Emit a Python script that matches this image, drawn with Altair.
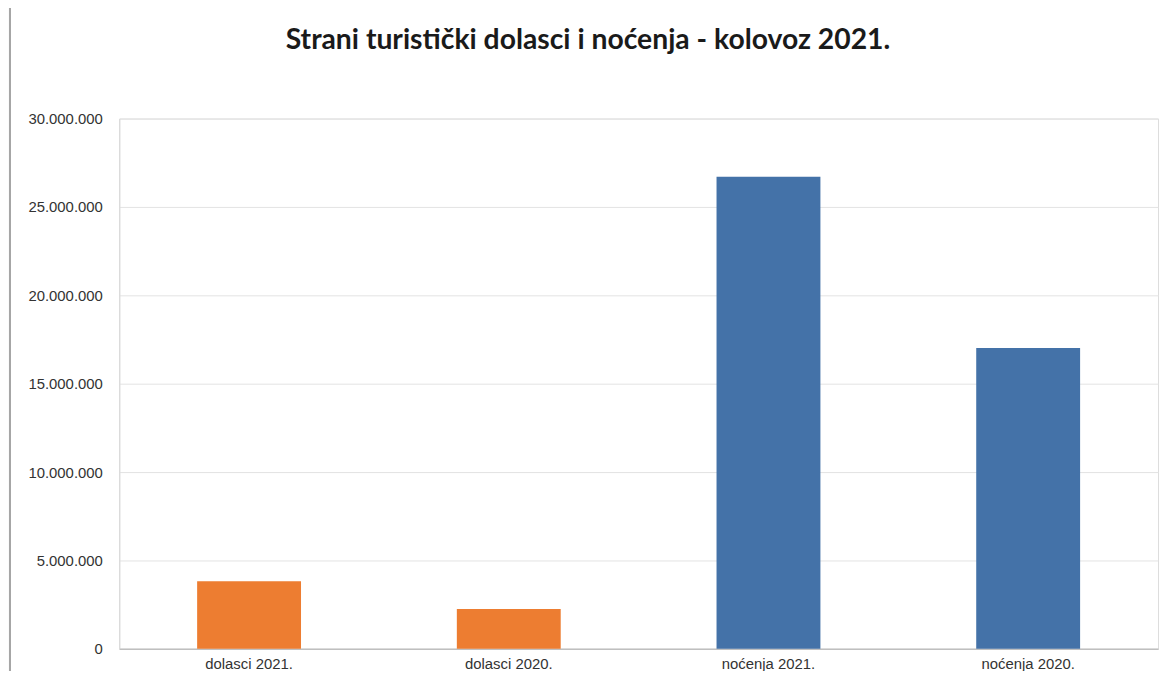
import altair as alt
import pandas as pd

categories = ["dolasci 2021.", "dolasci 2020.", "noćenja 2021.", "noćenja 2020."]
values = [3820000, 2250000, 26700000, 17020000]
colors = ["#ED7D31", "#ED7D31", "#4472A8", "#4472A8"]
y_ticks = [0, 5000000, 10000000, 15000000, 20000000, 25000000, 30000000]

df = pd.DataFrame({"kategorija": categories, "vrijednost": values, "boja": colors})

bars = alt.Chart(df).mark_bar().encode(
    x=alt.X("kategorija:N", sort=categories,
            scale=alt.Scale(paddingInner=0.6, paddingOuter=0.3),
            axis=alt.Axis(title=None, labelAngle=0, ticks=False, labelPadding=8,
                          labelFontSize=15, labelColor="#333333", labelFont="Liberation Sans",
                          domainColor="#BFBFBF", domainWidth=1.5)),
    y=alt.Y("vrijednost:Q", scale=alt.Scale(domain=[0, 30000000], nice=False),
            axis=alt.Axis(title=None, values=y_ticks, ticks=False, labelPadding=17,
                          labelExpr="join(split(format(datum.value, ','), ','), '.')",
                          labelFontSize=15, labelColor="#333333", labelFont="Liberation Sans",
                          gridColor="#E3E3E3", gridWidth=1, domainColor="#D9D9D9")),
    color=alt.Color("boja:N", scale=None),
)

border = alt.Chart(df).mark_rule(color="#A6A6A6", strokeWidth=2, clip=False).encode(
    x=alt.value(-110), y=alt.value(-117), y2=alt.value(562)
)

chart = alt.layer(bars, border).properties(
    width=1046, height=534,
    padding={"left": 112, "top": 109, "right": 2, "bottom": 20},
    autosize=alt.AutoSizeParams(type="none"),
    title=alt.TitleParams(
        "Strani turistički dolasci i noćenja - kolovoz 2021.",
        font="Lato", fontSize=28.5, fontWeight="bold", color="#1a1a1a",
        anchor="middle", dx=-51, offset=-53
    ),
).configure_view(stroke=None).configure(background="white")

chart.save("out.html", embed_options={"renderer": "svg", "actions": False})
